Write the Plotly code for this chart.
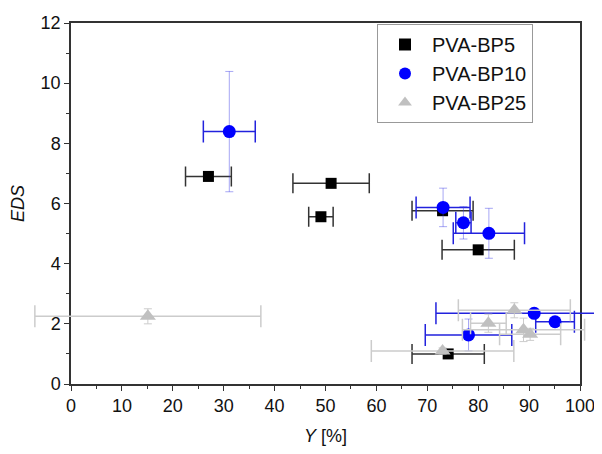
import plotly.graph_objects as go

# PVA-BP5 (black squares)
bp5_x = [27.0, 51.1, 49.1, 73.0, 80.0, 74.1]
bp5_y = [6.90, 6.67, 5.56, 5.76, 4.46, 1.00]
bp5_xerr = [4.5, 7.5, 2.4, 6.0, 7.1, 7.1]

# PVA-BP10 (blue circles)
bp10_x = [31.1, 73.1, 77.1, 82.1, 91.0, 95.1, 78.1]
bp10_y = [8.39, 5.87, 5.36, 5.01, 2.35, 2.07, 1.63]
bp10_xerr = [5.1, 5.3, 1.5, 7.0, 19.3, 3.8, 8.5]
bp10_yerr = [2.0, 0.64, 0.54, 0.83, 0.0, 0.0, 0.53]

# PVA-BP25 (grey triangles)
bp25_x = [15.1, 73.0, 87.1, 82.0, 88.9, 90.2]
bp25_y = [2.25, 1.10, 2.45, 2.02, 1.80, 1.65]
bp25_xerr = [22.2, 14.0, 11.0, 3.5, 12.0, 6.0]
bp25_yerr = [0.25, 0.1, 0.25, 0.3, 0.39, 0.2]

x_ticks = [0, 10, 20, 30, 40, 50, 60, 70, 80, 90, 100]
y_ticks = [0, 2, 4, 6, 8, 10, 12]

FONT = "Liberation Sans, Arial, sans-serif"

# page body has an 8px margin: figure is sized to fit the 602x454 window
OFF = 8
W, H = 602 - OFF, 454 - 2 * OFF
# plot frame (figure pixels)
L, R, T, B = 71 - OFF, 580 - OFF, 23 - OFF, 384 - OFF
XMIN, XMAX = 0, 100
YMIN, YMAX = 0, 12
xs = (R - L) / (XMAX - XMIN)
ys = (B - T) / (YMAX - YMIN)
# wide, invisible axes covering the whole figure so error bars may cross the frame
x2_range = [XMIN - L / xs, XMAX + (W - R) / xs]
y2_range = [YMIN - (H - B) / ys, YMAX + T / ys]

fig = go.Figure()

# empty trace to anchor the visible frame axes
fig.add_trace(go.Scatter(x=[], y=[], xaxis="x", yaxis="y", showlegend=False,
                         hoverinfo="skip", mode="markers"))

common = dict(xaxis="x2", yaxis="y2", mode="markers", cliponaxis=False)

fig.add_trace(go.Scatter(
    x=bp5_x, y=bp5_y, name="PVA-BP5",
    marker=dict(symbol="square", size=11, color="#000000"),
    error_x=dict(type="data", array=bp5_xerr, visible=True,
                 color="#333333", thickness=1.5, width=10),
    **common,
))

fig.add_trace(go.Scatter(
    x=bp10_x, y=bp10_y, name="PVA-BP10",
    marker=dict(symbol="circle", size=13, color="#0000ff"),
    error_x=dict(type="data", array=bp10_xerr, visible=True,
                 color="#2222dd", thickness=1.5, width=11),
    error_y=dict(type="data", array=bp10_yerr, visible=True,
                 color="rgba(60,60,230,0.45)", thickness=1, width=4),
    **common,
))

fig.add_trace(go.Scatter(
    x=bp25_x, y=bp25_y, name="PVA-BP25",
    marker=dict(symbol="triangle-up", size=14, color="#c0c0c0"),
    error_x=dict(type="data", array=bp25_xerr, visible=True,
                 color="#cccccc", thickness=1.5, width=11),
    error_y=dict(type="data", array=bp25_yerr, visible=True,
                 color="#cccccc", thickness=1, width=4),
    **common,
))

axis_common = dict(
    showline=True, linecolor="#333333", linewidth=1.5, mirror=True,
    ticks="outside", ticklen=5, tickwidth=1.2, tickcolor="#333333",
    showgrid=False, zeroline=False, automargin=False,
    ticklabeloverflow="allow",
    tickfont=dict(family=FONT, size=18, color="#111111"),
)

fig.update_layout(
    xaxis=dict(
        domain=[L / W, R / W], anchor="y",
        range=[XMIN, XMAX], tickvals=x_ticks, ticktext=[str(v) for v in x_ticks],
        minor=dict(dtick=5, tick0=0, ticks="outside", ticklen=3, tickwidth=1.2,
                   tickcolor="#333333", showgrid=False),
        title=dict(text="<i>Y</i> [%]", font=dict(family=FONT, size=18, color="#111111"),
                   standoff=14),
        **axis_common,
    ),
    yaxis=dict(
        domain=[(H - B) / H, (H - T) / H], anchor="x",
        range=[YMIN, YMAX], tickvals=y_ticks, ticktext=[str(v) for v in y_ticks],
        minor=dict(dtick=1, tick0=0, ticks="outside", ticklen=3, tickwidth=1.2,
                   tickcolor="#333333", showgrid=False),
        title=dict(text="<i>EDS</i>", font=dict(family=FONT, size=18, color="#111111"),
                   standoff=12),
        **axis_common,
    ),
    xaxis2=dict(domain=[0, 1], anchor="y2", range=x2_range, visible=False,
                showgrid=False, zeroline=False, fixedrange=True),
    yaxis2=dict(domain=[0, 1], anchor="x2", range=y2_range, visible=False,
                showgrid=False, zeroline=False, fixedrange=True),
    width=W, height=H,
    margin=dict(l=0, r=0, t=0, b=0, pad=0),
    paper_bgcolor="white", plot_bgcolor="rgba(0,0,0,0)",
    legend=dict(
        x=(377 - OFF) / W, y=1 - (24 - OFF) / H, xanchor="left", yanchor="top",
        bgcolor="white", bordercolor="#999999", borderwidth=1,
        font=dict(family=FONT, size=20, color="#111111"),
        itemsizing="constant", tracegroupgap=0, itemwidth=44,
    ),
    showlegend=True,
)

fig.write_html("out.html")
